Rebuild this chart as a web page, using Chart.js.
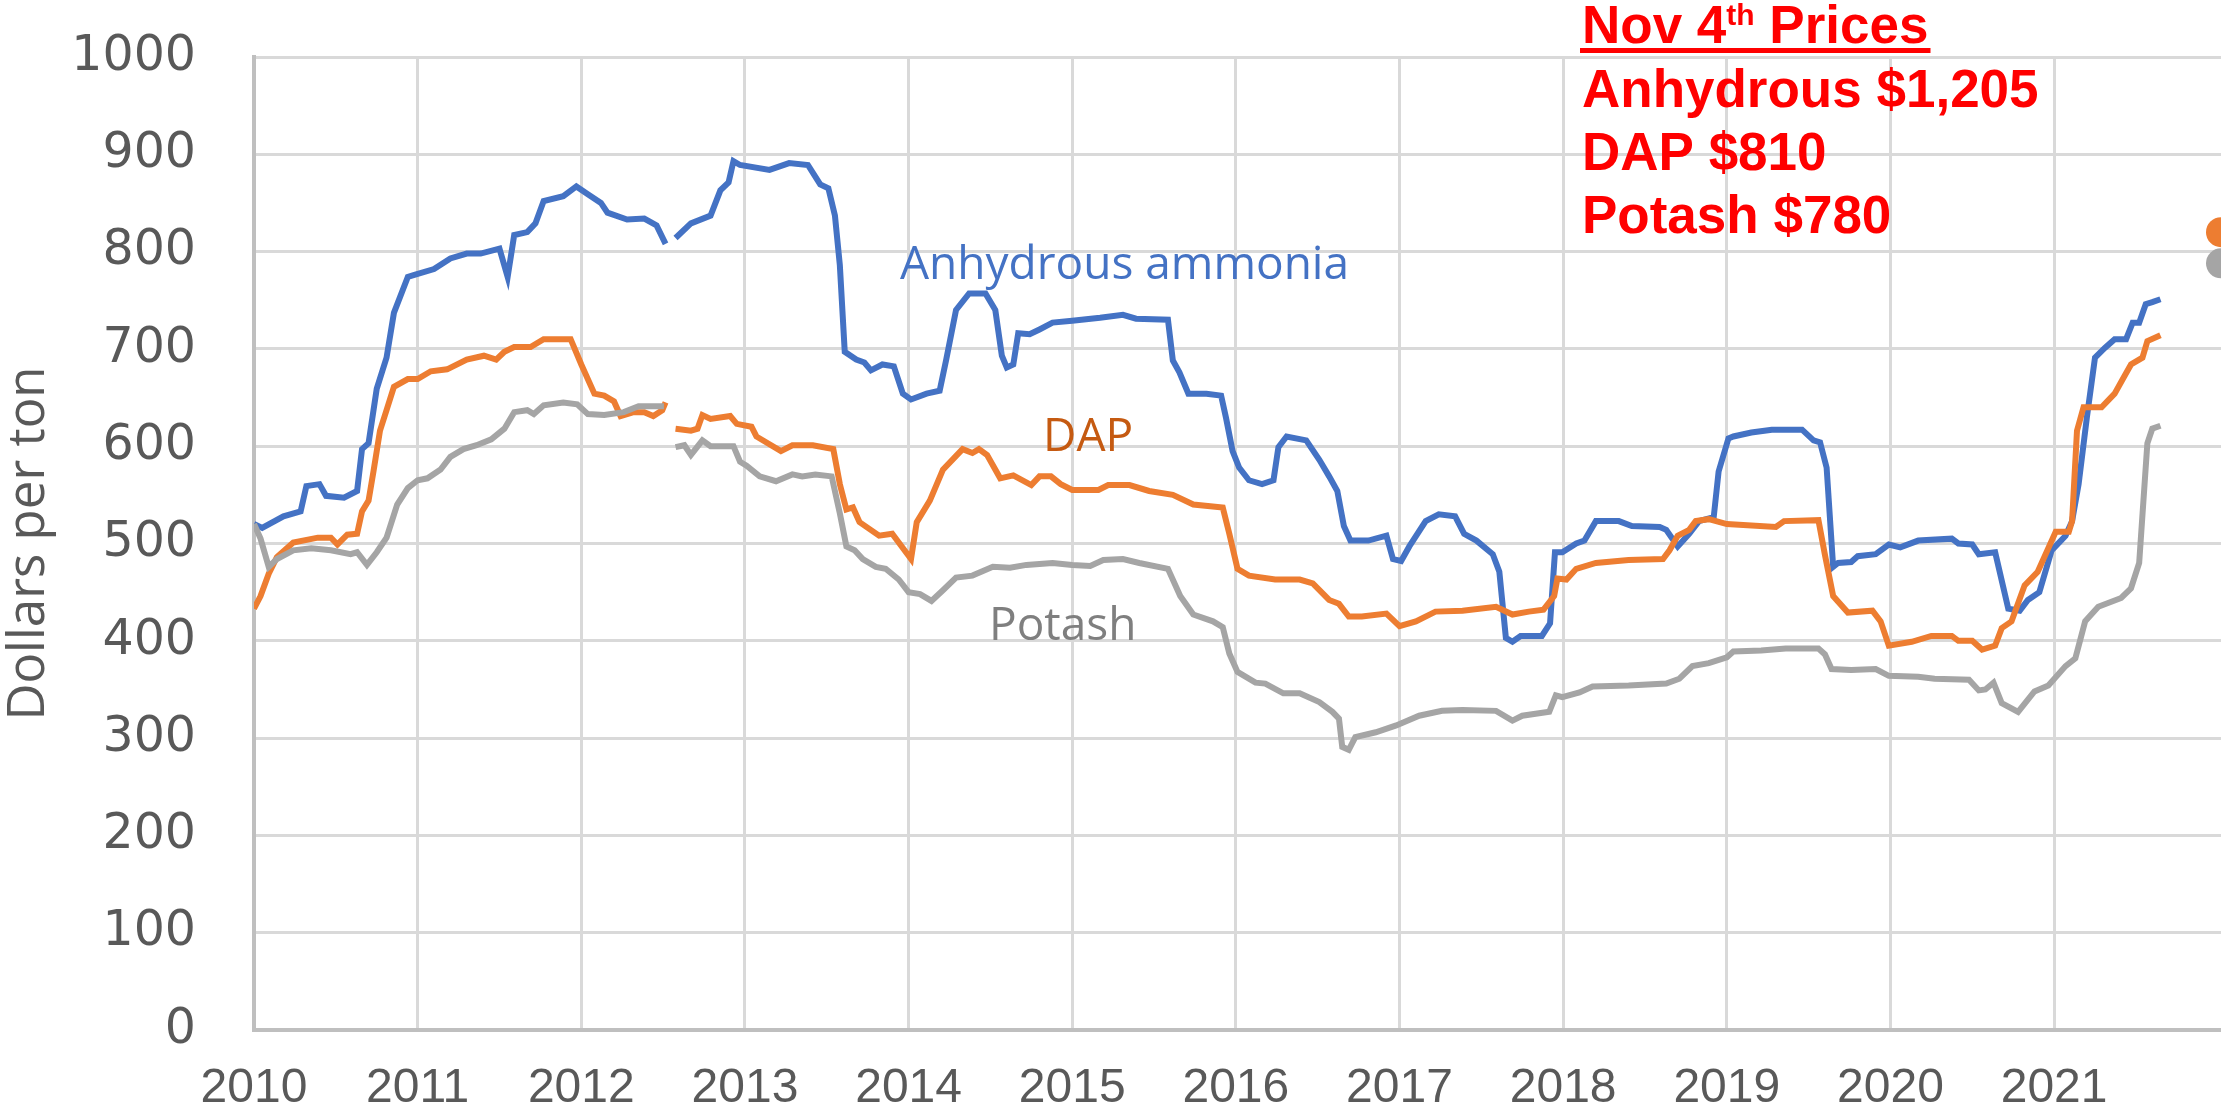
<!DOCTYPE html>
<html>
<head>
<meta charset="utf-8">
<title>Fertilizer prices</title>
<script src="https://cdn.jsdelivr.net/npm/chart.js@4.4.0/dist/chart.umd.min.js"></script>
<style>
  html, body { margin: 0; padding: 0; background: #fff; }
  #wrap { width: 2221px; height: 1112px; }
</style>
</head>
<body>
<div id="wrap"><canvas id="myChart"></canvas></div>
<script>
// data, dates as decimal years
const ammoniaDates = [
  2010.0, 2010.05, 2010.18, 2010.285, 2010.32, 2010.4, 2010.44, 2010.55, 2010.63, 2010.66, 2010.70, 2010.75, 2010.81, 2010.855, 2010.94, 2010.98,
  2011.10, 2011.2, 2011.30, 2011.385, 2011.50, 2011.55, 2011.59, 2011.67, 2011.72, 2011.77, 2011.89, 2011.97,
  2012.04, 2012.12, 2012.16, 2012.28, 2012.385, 2012.46, 2012.515, 2012.545, 2012.576, 2012.67, 2012.79, 2012.85, 2012.90, 2012.93, 2012.97,
  2013.15, 2013.27, 2013.385, 2013.46, 2013.51, 2013.55, 2013.58, 2013.61, 2013.68, 2013.73, 2013.77, 2013.84, 2013.91, 2013.965,
  2014.015, 2014.11, 2014.19, 2014.23, 2014.29, 2014.37, 2014.47, 2014.53, 2014.57, 2014.60, 2014.64, 2014.67, 2014.74, 2014.80, 2014.88,
  2015.00, 2015.17, 2015.31, 2015.39, 2015.585, 2015.615, 2015.655, 2015.71, 2015.82, 2015.91, 2015.94, 2015.98,
  2016.02, 2016.08, 2016.16, 2016.23, 2016.26, 2016.31, 2016.43, 2016.51, 2016.57, 2016.62, 2016.66, 2016.70, 2016.81, 2016.92, 2016.96,
  2017.01, 2017.06, 2017.16, 2017.24, 2017.34, 2017.395, 2017.47, 2017.57, 2017.61, 2017.65, 2017.69, 2017.74, 2017.87, 2017.92, 2017.95, 2017.995,
  2018.08, 2018.13, 2018.20, 2018.34, 2018.42, 2018.59, 2018.63, 2018.70, 2018.77, 2018.83, 2018.92, 2018.95,
  2019.01, 2019.04, 2019.15, 2019.275, 2019.46, 2019.53, 2019.57, 2019.61, 2019.65, 2019.68, 2019.76, 2019.80, 2019.91, 2019.99,
  2020.06, 2020.17, 2020.375, 2020.415, 2020.50, 2020.54, 2020.64, 2020.72, 2020.79, 2020.84, 2020.91, 2020.985,
  2021.07, 2021.11, 2021.15, 2021.20, 2021.25, 2021.31, 2021.37, 2021.44, 2021.48, 2021.52, 2021.56, 2021.60, 2021.65
];
const ammoniaPrices = [
  520, 516, 528, 533, 559, 561, 549, 547, 554, 597, 603, 659, 691, 737, 774, 776,
  782, 793, 798, 798, 803, 774, 817, 820, 829, 852, 857, 867,
  859, 850, 840, 833, 834, 827, 808, null, 814, 829, 837, 863, 871, 893, 889,
  884, 891, 889, 869, 865, 837, 786, 697, 689, 686, 678, 684, 682, 654,
  648, 654, 657, 689, 740, 757, 757, 740, 693, 681, 684, 716, 715, 720, 727,
  729, 732, 735, 731, 730, 688, 676, 654, 654, 652, 629, 595,
  578, 565, 561, 565, 599, 610, 606, 586, 569, 554, 518, 503, 503, 508, 484,
  482, 497, 523, 530, 528, 510, 503, 489, 471, 403, 399, 405, 405, 418, 491, 491,
  500, 503, 523, 523, 518, 517, 514, 497, 510, 523, 527, 574,
  608, 610, 614, 617, 617, 606, 604, 578, 476, 480, 481, 487, 489, 499,
  496, 503, 505, 500, 499, 489, 491, 433, 431, 442, 450, 493,
  508, 523, 561, 629, 691, 701, 710, 710, 727, 727, 746, 748, 751
];

const dapDates = [
  2010.0, 2010.04, 2010.09, 2010.14, 2010.24, 2010.39, 2010.47, 2010.51, 2010.57, 2010.63, 2010.66, 2010.70, 2010.73, 2010.77, 2010.81, 2010.855, 2010.94,
  2011.00, 2011.08, 2011.18, 2011.30, 2011.405, 2011.48, 2011.53, 2011.59, 2011.69, 2011.77, 2011.935,
  2012.00, 2012.08, 2012.14, 2012.20, 2012.24, 2012.32, 2012.385, 2012.44, 2012.495, 2012.515, 2012.545, 2012.576, 2012.67, 2012.71, 2012.74, 2012.79, 2012.91, 2012.95,
  2013.04, 2013.07, 2013.22, 2013.29, 2013.415, 2013.54, 2013.58, 2013.62, 2013.66, 2013.70, 2013.82, 2013.90,
  2014.015, 2014.05, 2014.13, 2014.21, 2014.33, 2014.39, 2014.43, 2014.48, 2014.56, 2014.64, 2014.75, 2014.80, 2014.87, 2014.93,
  2015.00, 2015.16, 2015.22, 2015.35, 2015.47, 2015.615, 2015.74, 2015.92, 2015.96,
  2016.01, 2016.08, 2016.24, 2016.39, 2016.47, 2016.57, 2016.63, 2016.69, 2016.77, 2016.92,
  2017.00, 2017.10, 2017.22, 2017.385, 2017.59, 2017.69, 2017.79, 2017.88, 2017.945, 2017.965,
  2018.02, 2018.08, 2018.20, 2018.40, 2018.61, 2018.65, 2018.70, 2018.77, 2018.81, 2018.89,
  2019.0, 2019.30, 2019.35, 2019.56, 2019.60, 2019.65, 2019.74, 2019.89, 2019.94, 2019.99,
  2020.13, 2020.25, 2020.375, 2020.415, 2020.50, 2020.56, 2020.64, 2020.68, 2020.74, 2020.82, 2020.90,
  2021.01, 2021.09, 2021.11, 2021.14, 2021.18, 2021.29, 2021.37, 2021.42, 2021.47, 2021.54, 2021.57, 2021.65
];
const dapPrices = [
  433, 446, 469, 486, 501, 506, 506, 499, 509, 510, 533, 544, 574, 616, 637, 661, 669,
  669, 677, 679, 689, 693, 689, 697, 702, 702, 710, 710,
  684, 654, 652, 646, 631, 635, 635, 631, 637, 645, null, 618, 616, 618, 632, 628, 631, 623,
  620, 610, 595, 601, 601, 597, 561, 535, 537, 522, 508, 510,
  484, 522, 544, 576, 597, 593, 597, 591, 567, 570, 560, 569, 569, 561,
  555, 555, 560, 560, 554, 550, 540, 537, 510,
  474, 467, 463, 463, 459, 442, 438, 425, 425, 428,
  415, 420, 430, 431, 435, 427, 430, 432, 446, 464,
  463, 474, 480, 483, 484, 493, 508, 514, 523, 525,
  520, 517, 523, 524, 488, 446, 429, 431, 420, 395,
  399, 405, 405, 400, 400, 391, 395, 413, 420, 457, 471,
  512, 512, 523, 616, 640, 640, 654, 669, 684, 691, 708, 714
];

const potashDates = [
  2010.0, 2010.04, 2010.09, 2010.14, 2010.24, 2010.35, 2010.47, 2010.59, 2010.63, 2010.69, 2010.75, 2010.81, 2010.875, 2010.94,
  2011.00, 2011.06, 2011.14, 2011.20, 2011.28, 2011.36, 2011.45, 2011.53, 2011.59, 2011.67, 2011.71, 2011.77, 2011.89, 2011.975,
  2012.04, 2012.14, 2012.26, 2012.35, 2012.505, 2012.545, 2012.576, 2012.63, 2012.67, 2012.74, 2012.79, 2012.93, 2012.97,
  2013.01, 2013.09, 2013.19, 2013.29, 2013.35, 2013.43, 2013.53, 2013.58, 2013.62, 2013.67, 2013.72, 2013.80, 2013.86, 2013.94,
  2014.00, 2014.07, 2014.14, 2014.21, 2014.29, 2014.39, 2014.515, 2014.62, 2014.72, 2014.88,
  2015.00, 2015.11, 2015.19, 2015.31, 2015.41, 2015.585, 2015.66, 2015.74, 2015.86, 2015.92, 2015.96,
  2016.01, 2016.12, 2016.18, 2016.29, 2016.39, 2016.51, 2016.59, 2016.63, 2016.65, 2016.69, 2016.73, 2016.855, 2016.98,
  2017.12, 2017.26, 2017.385, 2017.59, 2017.69, 2017.75, 2017.915, 2017.955, 2017.995,
  2018.10, 2018.18, 2018.40, 2018.63, 2018.71, 2018.79, 2018.89,
  2019.0, 2019.04, 2019.21, 2019.36, 2019.56, 2019.60, 2019.64, 2019.76, 2019.91, 2019.99,
  2020.17, 2020.27, 2020.48, 2020.54, 2020.58, 2020.63, 2020.68, 2020.78, 2020.88, 2020.965,
  2021.07, 2021.13, 2021.19, 2021.27, 2021.41, 2021.47, 2021.52, 2021.57, 2021.60, 2021.65
];
const potashPrices = [
  520, 505, 476, 484, 493, 495, 493, 489, 491, 478, 491, 506, 540, 557,
  565, 567, 576, 589, 597, 601, 607, 618, 635, 637, 633, 642, 645, 643,
  633, 632, 635, 641, 641, null, 599, 601, 591, 606, 600, 600, 584,
  580, 569, 564, 571, 569, 571, 569, 531, 497, 493, 484, 476, 474, 463,
  450, 448, 441, 452, 465, 467, 476, 475, 478, 480,
  478, 477, 483, 484, 480, 474, 446, 427, 420, 414, 387,
  368, 357, 356, 346, 346, 337, 327, 320, 291, 288, 301, 306, 313,
  323, 328, 329, 328, 318, 323, 327, 344, 342,
  347, 353, 354, 356, 361, 374, 377,
  383, 389, 390, 392, 392, 386, 371, 370, 371, 364,
  363, 361, 360, 349, 350, 357, 336, 327, 348, 354,
  374, 382, 420, 435, 444, 454, 480, 603, 618, 621
];

// Nov 4th dots at the right edge
const novDate = 2022.02;
const novDap = 820;
const novPotash = 788;

const yearTicks = [2010, 2011, 2012, 2013, 2014, 2015, 2016, 2017, 2018, 2019, 2020, 2021];
const priceTicks = [0, 100, 200, 300, 400, 500, 600, 700, 800, 900, 1000];

const toPoints = (xs, ys) => xs.map((x, i) => ({ x: x, y: ys[i] }));

// labels on the plot
const notesPlugin = {
  id: "notes",
  afterDatasetsDraw(chart) {
    const ctx = chart.ctx;
    ctx.save();
    ctx.textBaseline = "alphabetic";
    ctx.textAlign = "left";

    ctx.font = '46px "Open Sans"';
    ctx.fillStyle = "#4472C4";
    ctx.fillText("Anhydrous ammonia", 900, 279);
    ctx.fillStyle = "#C55A11";
    ctx.fillText("DAP", 1043, 451);
    ctx.fillStyle = "#7F7F7F";
    ctx.fillText("Potash", 989, 640);

    // red price box
    ctx.fillStyle = "#FF0000";
    const big = 'bold 53px "Liberation Sans", Arial, sans-serif';
    const small = 'bold 30px "Liberation Sans", Arial, sans-serif';
    let x = 1582;
    ctx.font = big;
    ctx.fillText("Nov 4", x, 43);
    x += ctx.measureText("Nov 4").width;
    ctx.font = small;
    ctx.fillText("th", x, 25);
    x += ctx.measureText("th").width;
    ctx.font = big;
    ctx.fillText(" Prices", x, 43);
    x += ctx.measureText(" Prices").width;
    ctx.fillRect(1580, 48, x - 1580 + 2, 5);

    ctx.fillText("Anhydrous $1,205", 1582, 107);
    ctx.fillText("DAP $810", 1582, 170);
    ctx.fillText("Potash $780", 1582, 233);
    ctx.restore();
  }
};

const gridColor = "#D9D9D9";
const axisColor = "#BFBFBF";
const labelColor = "#595959";

new Chart(document.getElementById("myChart"), {
  type: "line",
  data: {
    datasets: [
      {
        label: "Nov 4th",
        data: [{ x: novDate, y: novDap }, { x: novDate, y: novPotash }],
        showLine: false,
        pointRadius: 15,
        pointBorderWidth: 0,
        pointBackgroundColor: ["#ED7D31", "#A5A5A5"],
        clip: false,
        order: 0,
      },
      {
        label: "Potash",
        data: toPoints(potashDates, potashPrices),
        borderColor: "#A5A5A5",
        borderWidth: 6,
        pointRadius: 0,
        order: 1,
      },
      {
        label: "DAP",
        data: toPoints(dapDates, dapPrices),
        borderColor: "#ED7D31",
        borderWidth: 6,
        pointRadius: 0,
        order: 2,
      },
      {
        label: "Anhydrous ammonia",
        data: toPoints(ammoniaDates, ammoniaPrices),
        borderColor: "#4472C4",
        borderWidth: 6,
        pointRadius: 0,
        order: 3,
      },
    ],
  },
  options: {
    responsive: true,
    maintainAspectRatio: false,
    animation: false,
    spanGaps: false,
    layout: { autoPadding: false, padding: { top: 57, right: 0, bottom: 0, left: 0 } },
    plugins: {
      legend: { display: false },
      tooltip: { enabled: false },
    },
    scales: {
      x: {
        type: "linear",
        min: 2010,
        max: novDate,
        afterBuildTicks: (s) => { s.ticks = yearTicks.map((v) => ({ value: v })); },
        afterFit: (s) => { s.height = 82; s.paddingLeft = 0; s.paddingRight = 0; },
        ticks: {
          color: labelColor,
          font: { family: '"Liberation Sans Narrow", "Liberation Sans"', size: 48 },
          padding: 30,
          maxRotation: 0,
          autoSkip: false,
          callback: (v) => String(v),
        },
        grid: { color: gridColor, lineWidth: 3, drawTicks: false },
        border: { color: axisColor, width: 4 },
      },
      y: {
        min: 0,
        max: 1000,
        afterBuildTicks: (s) => { s.ticks = priceTicks.map((v) => ({ value: v })); },
        afterFit: (s) => { s.width = 254; s.paddingTop = 0; s.paddingBottom = 0; },
        ticks: {
          color: labelColor,
          font: { family: '"DejaVu Sans"', size: 49 },
          padding: 58,
          callback: (v) => String(v),
        },
        grid: { color: gridColor, lineWidth: 3, drawTicks: false },
        border: { color: axisColor, width: 4 },
        title: {
          display: true,
          text: "Dollars per ton",
          color: labelColor,
          font: { family: '"Open Sans"', size: 51, lineHeight: 1 },
          padding: { top: 4, bottom: 0 },
        },
      },
    },
  },
  plugins: [notesPlugin],
});
</script>
</body>
</html>
